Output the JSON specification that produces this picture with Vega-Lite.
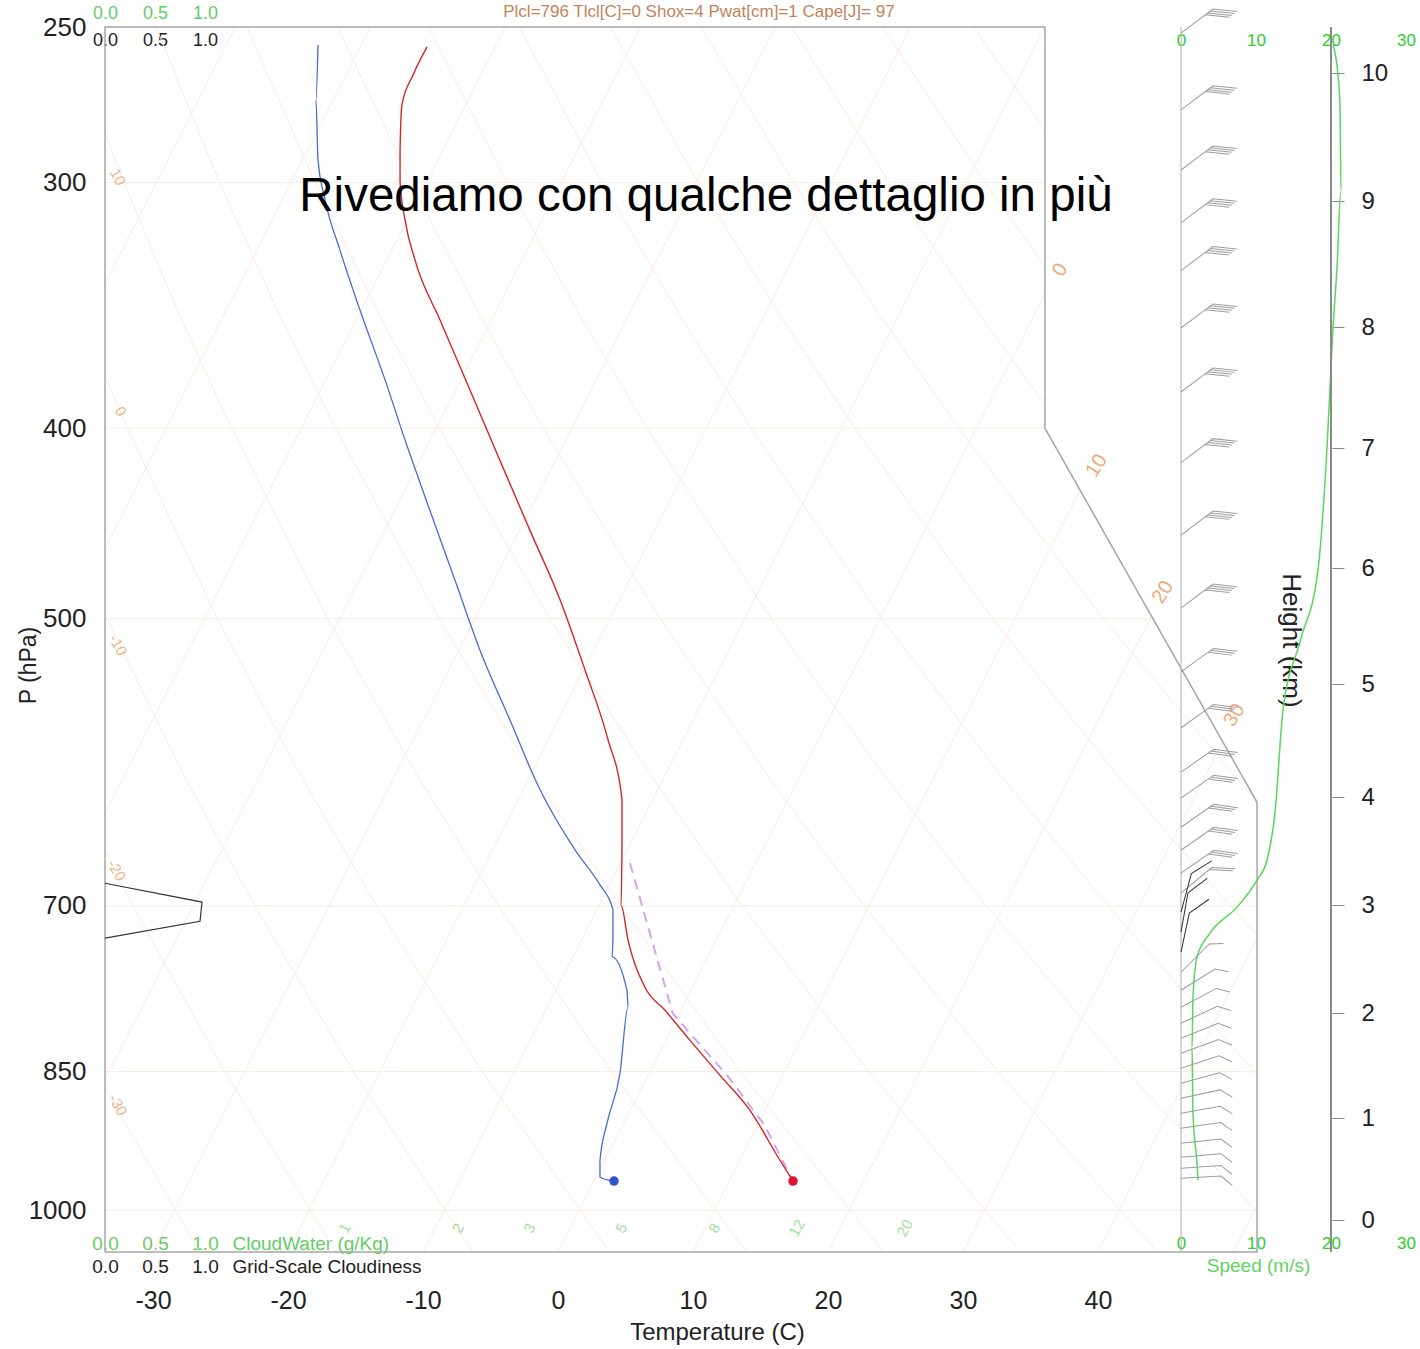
{
"$schema": "https://vega.github.io/schema/vega-lite/v6.json",
"width": 1301,
"height": 1225,
"autosize": {"type": "none"},
"padding": {"left": 105, "top": 27, "right": 14, "bottom": 97},
"background": "#ffffff",
"config": {"view": {"stroke": null}, "font": "Liberation Sans", "axis": {"grid": false, "labelFont": "Liberation Sans", "titleFont": "Liberation Sans", "labelOverlap": false, "labelFlush": false}, "text": {"font": "Liberation Sans"}},
"datasets": {
"isobars": [{"p":300,"t1":-33.556,"t2":36.07},{"p":400,"t1":-33.556,"t2":36.07},{"p":500,"t1":-33.556,"t2":44.07},{"p":700,"t1":-33.556,"t2":51.78},{"p":850,"t1":-33.556,"t2":51.78},{"p":1000,"t1":-33.556,"t2":51.78}],
"isotherms": [
{"id":-70,"t":-33.556,"p":337.8},{"id":-70,"t":-23.9,"p":250},
{"id":-60,"t":-33.556,"p":460.4},{"id":-60,"t":-13.9,"p":250},
{"id":-50,"t":-33.556,"p":628.2},{"id":-50,"t":-3.9,"p":250},
{"id":-40,"t":-33.556,"p":858.1},{"id":-40,"t":6.1,"p":250},
{"id":-30,"t":-30,"p":1050},{"id":-30,"t":16.1,"p":250},
{"id":-20,"t":-20,"p":1050},{"id":-20,"t":26.1,"p":250},
{"id":-10,"t":-10,"p":1050},{"id":-10,"t":36.07,"p":250},
{"id":0,"t":0,"p":1050},{"id":0,"t":36.07,"p":341.7},
{"id":10,"t":10,"p":1050},{"id":10,"t":38.68,"p":430},
{"id":20,"t":20,"p":1050},{"id":20,"t":43.95,"p":498.6},
{"id":30,"t":30,"p":1050},{"id":30,"t":49.23,"p":577.6},
{"id":40,"t":40,"p":1050},{"id":40,"t":51.78,"p":727},
{"id":50,"t":50,"p":1050},{"id":50,"t":51.78,"p":994}
],
"adiabats": [
{"id":-30,"p":700,"t":-40.53},{"id":-30,"p":850,"t":-34.24},{"id":-30,"p":1050,"t":-26.58},
{"id":-20,"p":500,"t":-41.64},{"id":-20,"p":600,"t":-36.39},{"id":-20,"p":700,"t":-31.5},{"id":-20,"p":850,"t":-24.69},{"id":-20,"p":1050,"t":-16.44},
{"id":-10,"p":400,"t":-39.59},{"id":-10,"p":500,"t":-33.43},{"id":-10,"p":600,"t":-27.75},{"id":-10,"p":700,"t":-22.47},{"id":-10,"p":850,"t":-15.15},{"id":-10,"p":1050,"t":-6.3},
{"id":0,"p":250,"t":-43.24},{"id":0,"p":300,"t":-39.25},{"id":0,"p":350,"t":-35.47},{"id":0,"p":400,"t":-31.89},{"id":0,"p":500,"t":-25.23},{"id":0,"p":600,"t":-19.11},{"id":0,"p":700,"t":-13.44},{"id":0,"p":850,"t":-5.6},{"id":0,"p":1050,"t":3.84},
{"id":10,"p":250,"t":-36.51},{"id":10,"p":300,"t":-32.16},{"id":10,"p":350,"t":-28.06},{"id":10,"p":400,"t":-24.19},{"id":10,"p":500,"t":-17.03},{"id":10,"p":600,"t":-10.47},{"id":10,"p":700,"t":-4.41},{"id":10,"p":850,"t":3.95},{"id":10,"p":1050,"t":13.98},
{"id":20,"p":250,"t":-29.78},{"id":20,"p":300,"t":-25.07},{"id":20,"p":350,"t":-20.65},{"id":20,"p":400,"t":-16.5},{"id":20,"p":500,"t":-8.82},{"id":20,"p":600,"t":-1.83},{"id":20,"p":700,"t":4.62},{"id":20,"p":850,"t":13.49},{"id":20,"p":1050,"t":24.12},
{"id":30,"p":250,"t":-23.05},{"id":30,"p":300,"t":-17.98},{"id":30,"p":350,"t":-13.24},{"id":30,"p":400,"t":-8.8},{"id":30,"p":500,"t":-0.62},{"id":30,"p":600,"t":6.82},{"id":30,"p":700,"t":13.65},{"id":30,"p":850,"t":23.04},{"id":30,"p":1050,"t":34.26},
{"id":40,"p":250,"t":-16.32},{"id":40,"p":300,"t":-10.89},{"id":40,"p":350,"t":-5.84},{"id":40,"p":400,"t":-1.1},{"id":40,"p":500,"t":7.58},{"id":40,"p":600,"t":15.46},{"id":40,"p":700,"t":22.68},{"id":40,"p":850,"t":32.59},{"id":40,"p":1050,"t":44.4},
{"id":50,"p":250,"t":-9.59},{"id":50,"p":300,"t":-3.8},{"id":50,"p":350,"t":1.57},{"id":50,"p":400,"t":6.59},{"id":50,"p":500,"t":15.79},{"id":50,"p":600,"t":24.1},{"id":50,"p":700,"t":31.72},{"id":50,"p":850,"t":42.13},{"id":50,"p":1002,"t":51.78},
{"id":60,"p":250,"t":-2.86},{"id":60,"p":300,"t":3.28},{"id":60,"p":350,"t":8.98},{"id":60,"p":400,"t":14.29},{"id":60,"p":500,"t":23.99},{"id":60,"p":600,"t":32.74},{"id":60,"p":700,"t":40.75},{"id":60,"p":853,"t":51.78},
{"id":70,"p":250,"t":3.87},{"id":70,"p":300,"t":10.37},{"id":70,"p":350,"t":16.39},{"id":70,"p":400,"t":21.99},{"id":70,"p":500,"t":32.19},{"id":70,"p":600,"t":41.38},{"id":70,"p":700,"t":49.78},{"id":70,"p":724,"t":51.78},
{"id":80,"p":250,"t":10.6},{"id":80,"p":300,"t":17.46},{"id":80,"p":350,"t":23.8},{"id":80,"p":400,"t":29.68},{"id":80,"p":500,"t":40.4},{"id":80,"p":600,"t":50.03},{"id":80,"p":618,"t":51.7},
{"id":90,"p":250,"t":17.32},{"id":90,"p":300,"t":24.55},{"id":90,"p":350,"t":31.21},{"id":90,"p":389,"t":36.07},
{"id":100,"p":250,"t":24.05},{"id":100,"p":300,"t":31.64},{"id":100,"p":331,"t":36.07},
{"id":110,"p":250,"t":30.78},{"id":110,"p":282,"t":36.07}
],
"frame": [{"k":1,"t":-33.556,"p":1050},{"k":2,"t":-33.556,"p":250},{"k":3,"t":36.07,"p":250},{"k":4,"t":36.07,"p":400},{"k":5,"t":51.78,"p":620},{"k":6,"t":51.78,"p":1050},{"k":7,"t":-33.556,"p":1050}],
"temp": [{"t":-9.7,"p":255.9},{"t":-10.74,"p":264.5},{"t":-11.56,"p":273.9},{"t":-11.7,"p":288.7},{"t":-11.7,"p":299.8},{"t":-11.33,"p":313.4},{"t":-10.59,"p":328.5},{"t":-8.74,"p":352.4},{"t":-6.52,"p":382.5},{"t":-4.3,"p":415.4},{"t":-2.07,"p":451},{"t":0.15,"p":489},{"t":2.0,"p":531},{"t":3.7,"p":576},{"t":4.74,"p":618},{"t":4.74,"p":648},{"t":4.67,"p":699.5},{"t":5.19,"p":728.6},{"t":6.44,"p":770},{"t":7.93,"p":791.1},{"t":9.78,"p":819.4},{"t":12.0,"p":853.7},{"t":14.22,"p":889.4},{"t":16.44,"p":943},{"t":17.41,"p":966.3}],
"dewp": [{"t":-17.78,"p":255.3},{"t":-17.93,"p":272.3},{"t":-17.78,"p":292},{"t":-17.26,"p":306},{"t":-16.15,"p":324.7},{"t":-14.67,"p":348.3},{"t":-12.81,"p":378},{"t":-11.33,"p":405.6},{"t":-9.48,"p":440.6},{"t":-7.63,"p":478},{"t":-5.78,"p":518.8},{"t":-3.56,"p":563},{"t":-1.33,"p":611},{"t":1.26,"p":655.6},{"t":3.11,"p":683},{"t":4.07,"p":703},{"t":4.07,"p":726},{"t":4.0,"p":743},{"t":5.11,"p":773},{"t":5.19,"p":788},{"t":4.59,"p":851.6},{"t":3.63,"p":903},{"t":3.11,"p":943},{"t":3.11,"p":962},{"t":4.15,"p":966.3}],
"parcel": [{"t":5.33,"p":665.8},{"t":8.5,"p":794},{"t":12.6,"p":855},{"t":15.3,"p":905},{"t":17.41,"p":966.3}],
"surface": [{"t":4.15,"p":966.3,"var":"Td"},{"t":17.41,"p":966.3,"var":"T"}],
"adiabatLabels": [{"t":-32.6,"p":298,"label":"10"},{"t":-32.4,"p":392.2,"label":"0"},{"t":-32.6,"p":515.7,"label":"-10"},{"t":-32.7,"p":671.4,"label":"-20"},{"t":-32.6,"p":884.1,"label":"-30"}],
"isothermLabels": [{"t":37.2,"p":332.3,"label":"0"},{"t":39.9,"p":417.9,"label":"10"},{"t":44.8,"p":484.7,"label":"20"},{"t":50.1,"p":559.8,"label":"30"}],
"mixingLabels": [{"t":-15.8,"p":1021,"label":"1"},{"t":-7.4,"p":1021,"label":"2"},{"t":-2.1,"p":1021,"label":"3"},{"t":4.7,"p":1021,"label":"5"},{"t":11.6,"p":1021,"label":"8"},{"t":17.7,"p":1021,"label":"12"},{"t":25.7,"p":1021,"label":"20"}],
"header": [{"t":10.44,"p":245.6,"label":"Plcl=796 Tlcl[C]=0 Shox=4 Pwat[cm]=1 Cape[J]= 97"}],
"overlay": [{"t":10.96,"p":305.1,"label":"Rivediamo con qualche dettaglio in più"}],
"speed": [{"s":20.27,"p":255.3},{"s":20.93,"p":264.5},{"s":21.2,"p":274.6},{"s":21.33,"p":302.6},{"s":20.8,"p":331.5},{"s":20.27,"p":355.3},{"s":19.47,"p":409.4},{"s":18.27,"p":472.1},{"s":15.87,"p":513.6},{"s":13.6,"p":556.5},{"s":12.53,"p":627.8},{"s":11.47,"p":663.4},{"s":10.13,"p":679.2},{"s":7.47,"p":701},{"s":3.87,"p":722.7},{"s":2.13,"p":743.3},{"s":1.6,"p":779},{"s":1.47,"p":826},{"s":1.6,"p":892.4},{"s":2.13,"p":946.2},{"s":2.27,"p":965.2}],
"barbs": [
{"p":251.8,"dir":53,"kind":"b4","grp":"a"},{"p":275.5,"dir":53,"kind":"b4","grp":"a"},{"p":295.6,"dir":53,"kind":"b4","grp":"a"},{"p":314.5,"dir":53,"kind":"b4","grp":"a"},{"p":332.6,"dir":53,"kind":"b4","grp":"a"},{"p":355.7,"dir":53,"kind":"b4","grp":"a"},{"p":383.4,"dir":53,"kind":"b4","grp":"a"},{"p":416.5,"dir":53,"kind":"b4","grp":"a"},{"p":453.4,"dir":53,"kind":"b4","grp":"a"},{"p":493.9,"dir":53,"kind":"b4","grp":"a"},
{"p":532.2,"dir":54,"kind":"b3","grp":"a"},{"p":568.3,"dir":54,"kind":"b3","grp":"a"},{"p":598.5,"dir":55,"kind":"b3","grp":"a"},{"p":617.0,"dir":55,"kind":"b3","grp":"a"},{"p":638.4,"dir":55,"kind":"b3","grp":"a"},{"p":655.8,"dir":55,"kind":"b3","grp":"a"},{"p":673.7,"dir":55,"kind":"b3","grp":"a"},
{"p":689.7,"dir":50,"kind":"b2","grp":"a"},
{"p":705.2,"dir":15,"kind":"b1","grp":"b"},{"p":721.9,"dir":10,"kind":"b1","grp":"b"},{"p":739.0,"dir":12,"kind":"b1","grp":"b"},
{"p":756.6,"dir":45,"kind":"h","grp":"a"},{"p":772.7,"dir":58,"kind":"h","grp":"a"},{"p":788.2,"dir":62,"kind":"h","grp":"a"},{"p":803.1,"dir":65,"kind":"h","grp":"a"},{"p":817.4,"dir":68,"kind":"h","grp":"a"},{"p":831.9,"dir":70,"kind":"h","grp":"a"},{"p":846.6,"dir":72,"kind":"h","grp":"a"},{"p":861.6,"dir":75,"kind":"h","grp":"a"},{"p":876.9,"dir":78,"kind":"h","grp":"a"},{"p":892.4,"dir":80,"kind":"h","grp":"a"},{"p":908.2,"dir":82,"kind":"h","grp":"a"},{"p":924.3,"dir":84,"kind":"h","grp":"a"},{"p":939.6,"dir":85,"kind":"h","grp":"a"},{"p":951.8,"dir":86,"kind":"h","grp":"a"},{"p":963.0,"dir":87,"kind":"h","grp":"a"}
],
"cloud": [{"k":1,"c":0,"p":681.7},{"k":2,"c":0.97,"p":696.9},{"k":3,"c":0.95,"p":712.7},{"k":4,"c":0,"p":727}],
"heights": [{"h":0},{"h":1},{"h":2},{"h":3},{"h":4},{"h":5},{"h":6},{"h":7},{"h":8},{"h":9},{"h":10}]
},
"layer": [
{
"layer": [
{"data": {"name": "isobars"}, "mark": {"type": "rule", "color": "#f8ebe1", "strokeWidth": 1},
 "encoding": {
  "x": {"field": "t1", "type": "quantitative", "scale": {"domain": [-33.556, 62.815], "nice": false, "zero": false},
        "axis": {"orient": "bottom", "values": [-30,-20,-10,0,10,20,30,40], "labelExpr": "toString(datum.value)", "domain": false, "ticks": false, "tickSize": 0, "labelPadding": 36, "labelFontSize": 25, "labelColor": "#222222", "title": "Temperature (C)", "titleFontSize": 24, "titleFontWeight": "normal", "titleColor": "#222222", "titleX": 612, "titleY": 80, "titleAlign": "center", "titleBaseline": "middle"}},
  "x2": {"field": "t2"},
  "y": {"field": "p", "type": "quantitative", "scale": {"type": "log", "domain": [250, 1050], "reverse": true, "nice": false},
        "axis": {"orient": "left", "values": [250,300,400,500,700,850,1000], "format": "d", "domain": false, "ticks": false, "tickSize": 0, "labelPadding": 19, "labelFontSize": 26, "labelColor": "#222222", "title": "P (hPa)", "titleFontSize": 23, "titleFontWeight": "normal", "titleColor": "#222222", "titleX": -77, "titleY": 638, "titleAngle": -90, "titleAlign": "center", "titleBaseline": "middle"}}
 }},
{"data": {"name": "isotherms"}, "mark": {"type": "line", "color": "#f9eadf", "strokeWidth": 1, "clip": true},
 "encoding": {"x": {"field": "t", "type": "quantitative"}, "y": {"field": "p", "type": "quantitative"}, "detail": {"field": "id"}, "order": {"field": "p"}}},
{"data": {"name": "adiabats"}, "mark": {"type": "line", "color": "#f9eadf", "strokeWidth": 1, "clip": true},
 "encoding": {"x": {"field": "t", "type": "quantitative"}, "y": {"field": "p", "type": "quantitative"}, "detail": {"field": "id"}, "order": {"field": "p"}}},
{"data": {"name": "frame"}, "mark": {"type": "line", "color": "#a6a6a6", "strokeWidth": 1.5},
 "encoding": {"x": {"field": "t", "type": "quantitative"}, "y": {"field": "p", "type": "quantitative"}, "order": {"field": "k"}}},
{"data": {"name": "parcel"}, "mark": {"type": "line", "color": "#cfa6ee", "strokeWidth": 2, "strokeDash": [10, 7]},
 "encoding": {"x": {"field": "t", "type": "quantitative"}, "y": {"field": "p", "type": "quantitative"}, "order": {"field": "p"}}},
{"data": {"name": "dewp"}, "mark": {"type": "line", "color": "#4a6bd0", "strokeWidth": 1.3, "interpolate": "monotone"},
 "encoding": {"x": {"field": "t", "type": "quantitative"}, "y": {"field": "p", "type": "quantitative"}, "order": {"field": "p"}}},
{"data": {"name": "temp"}, "mark": {"type": "line", "color": "#d42626", "strokeWidth": 1.4, "interpolate": "monotone"},
 "encoding": {"x": {"field": "t", "type": "quantitative"}, "y": {"field": "p", "type": "quantitative"}, "order": {"field": "p"}}},
{"data": {"name": "surface"}, "mark": {"type": "point", "filled": true, "size": 90, "opacity": 1},
 "encoding": {"x": {"field": "t", "type": "quantitative"}, "y": {"field": "p", "type": "quantitative"},
  "color": {"field": "var", "type": "nominal", "scale": {"domain": ["T", "Td"], "range": ["#dd1133", "#3355cc"]}, "legend": null}}},
{"data": {"name": "adiabatLabels"}, "mark": {"type": "text", "color": "#f0b48c", "fontSize": 15, "angle": 60},
 "encoding": {"x": {"field": "t", "type": "quantitative"}, "y": {"field": "p", "type": "quantitative"}, "text": {"field": "label"}}},
{"data": {"name": "isothermLabels"}, "mark": {"type": "text", "color": "#eeaa7c", "fontSize": 20, "angle": -58},
 "encoding": {"x": {"field": "t", "type": "quantitative"}, "y": {"field": "p", "type": "quantitative"}, "text": {"field": "label"}}},
{"data": {"name": "mixingLabels"}, "mark": {"type": "text", "color": "#9ee09e", "fontSize": 15, "angle": -60},
 "encoding": {"x": {"field": "t", "type": "quantitative"}, "y": {"field": "p", "type": "quantitative"}, "text": {"field": "label"}}},
{"data": {"name": "header"}, "mark": {"type": "text", "color": "#c4835a", "fontSize": 17, "baseline": "middle"},
 "encoding": {"x": {"field": "t", "type": "quantitative"}, "y": {"field": "p", "type": "quantitative"}, "text": {"field": "label"}}},
{"data": {"name": "overlay"}, "mark": {"type": "text", "color": "#000000", "fontSize": 47.5, "baseline": "middle"},
 "encoding": {"x": {"field": "t", "type": "quantitative"}, "y": {"field": "p", "type": "quantitative"}, "text": {"field": "label"}}}
]
},
{
"layer": [
{"data": {"name": "speed"}, "mark": {"type": "line", "color": "#5ad65a", "strokeWidth": 1.5, "interpolate": "monotone"},
 "encoding": {
  "x": {"field": "s", "type": "quantitative", "scale": {"domain": [-143.47, 30], "nice": false, "zero": false},
        "axis": {"orient": "bottom", "values": [0,10,20,30], "domain": false, "ticks": false, "tickSize": 0, "labelBaseline": "middle", "labelPadding": -9, "labelFontSize": 17, "labelColor": "#2ecc2e", "title": "Speed (m/s)", "titleColor": "#5fd35f", "titleFontSize": 19, "titleFontWeight": "normal", "titleX": 1153, "titleY": 13, "titleAlign": "center", "titleBaseline": "middle"}},
  "y": {"field": "p", "type": "quantitative", "scale": {"type": "log", "domain": [250, 1050], "reverse": true, "nice": false}, "axis": null},
  "order": {"field": "p"}
 }},
{"data": {"values": [{"s": 0}]}, "mark": {"type": "rule", "color": "#bdbdbd", "strokeWidth": 1.2},
 "encoding": {"x": {"field": "s", "type": "quantitative",
   "axis": {"orient": "top", "values": [0,10,20,30], "domain": false, "ticks": false, "tickSize": 0, "labelBaseline": "middle", "labelPadding": -13, "labelFontSize": 17, "labelColor": "#2ecc2e", "title": null}}}},
{"data": {"values": [{"s": 20}]}, "mark": {"type": "rule", "color": "#8a8a8a", "strokeWidth": 2},
 "encoding": {"x": {"field": "s", "type": "quantitative", "axis": null}}},
{"data": {"name": "barbs"}, "mark": {"type": "point", "filled": false, "size": 64, "strokeWidth": 1, "opacity": 1},
 "encoding": {
  "x": {"datum": 0, "type": "quantitative", "axis": null},
  "y": {"field": "p", "type": "quantitative"},
  "shape": {"field": "kind", "type": "nominal", "legend": null, "scale": {"domain": ["h", "b1", "b2", "b3", "b4"], "range": ["M0,0L0,-10L2.4,-12.6", "M0,0L0,-10L4.1,-14.4", "M0,0L0,-10L4.1,-14.4M0,-9.2L4.1,-13.6", "M0,0L0,-10L4.1,-14.4M0,-9.2L4.1,-13.6M0,-8.4L4.1,-12.8", "M0,0L0,-10L4.1,-14.4M0,-9.2L4.1,-13.6M0,-8.4L4.1,-12.8M0,-7.6L4.1,-12"]}},
  "angle": {"field": "dir", "type": "quantitative", "scale": null},
  "color": {"field": "grp", "type": "nominal", "scale": {"domain": ["a", "b"], "range": ["#9c9c9c", "#333333"]}, "legend": null}
 }}
],
"resolve": {"axis": {"x": "independent"}}
},
{
"layer": [
{"data": {"name": "cloud"}, "mark": {"type": "line", "color": "#333333", "strokeWidth": 1.2},
 "encoding": {
  "x": {"field": "c", "type": "quantitative", "scale": {"domain": [0, 13.01], "nice": false, "zero": false},
        "axis": {"orient": "bottom", "values": [0, 0.5, 1], "format": ".1f", "domain": false, "ticks": false, "tickSize": 0, "labelBaseline": "middle", "labelPadding": 14, "labelFontSize": 19, "labelColor": "#222222", "title": "Grid-Scale Cloudiness", "titleX": 127, "titleY": 14, "titleAlign": "left", "titleBaseline": "middle", "titleFontSize": 19, "titleFontWeight": "normal", "titleColor": "#222222"}},
  "y": {"field": "p", "type": "quantitative", "scale": {"type": "log", "domain": [250, 1050], "reverse": true, "nice": false}, "axis": null},
  "order": {"field": "k"}
 }},
{"data": {"name": "cloud"}, "mark": {"type": "point", "opacity": 0},
 "encoding": {
  "x": {"field": "c", "type": "quantitative",
        "axis": {"orient": "bottom", "values": [0, 0.5, 1], "format": ".1f", "domain": false, "ticks": false, "tickSize": 0, "labelBaseline": "middle", "labelPadding": -9, "labelFontSize": 19, "labelColor": "#66cc66", "title": "CloudWater (g/Kg)", "titleX": 127, "titleY": -9, "titleAlign": "left", "titleBaseline": "middle", "titleFontSize": 19, "titleFontWeight": "normal", "titleColor": "#66cc66"}},
  "y": {"field": "p", "type": "quantitative"}
 }},
{"data": {"name": "cloud"}, "mark": {"type": "point", "opacity": 0},
 "encoding": {
  "x": {"field": "c", "type": "quantitative",
        "axis": {"orient": "top", "values": [0, 0.5, 1], "format": ".1f", "domain": false, "ticks": false, "tickSize": 0, "labelBaseline": "middle", "labelPadding": -13, "labelFontSize": 18, "labelColor": "#222222", "title": null}},
  "y": {"field": "p", "type": "quantitative"}
 }},
{"data": {"name": "cloud"}, "mark": {"type": "point", "opacity": 0},
 "encoding": {
  "x": {"field": "c", "type": "quantitative",
        "axis": {"orient": "top", "values": [0, 0.5, 1], "format": ".1f", "domain": false, "ticks": false, "tickSize": 0, "labelBaseline": "middle", "labelPadding": 14, "labelFontSize": 18, "labelColor": "#66cc66", "title": null}},
  "y": {"field": "p", "type": "quantitative"}
 }}
],
"resolve": {"axis": {"x": "independent"}}
},
{
"data": {"name": "heights"},
"mark": {"type": "point", "opacity": 0},
"encoding": {
 "y": {"field": "h", "type": "quantitative", "scale": {"domain": [0,1,2,3,4,5,6,7,8,9,10], "range": [1193,1091,986,878,770,657,541,421,300,174,46], "nice": false, "zero": false},
       "axis": {"orient": "right", "offset": -74, "values": [0,1,2,3,4,5,6,7,8,9,10], "domain": false, "ticks": true, "tickSize": 12, "tickColor": "#8a8a8a", "labelPadding": 17, "labelFontSize": 24, "labelColor": "#222222", "title": "Height (km)", "titleX": -42, "titleY": 613, "titleAngle": 90, "titleAlign": "center", "titleBaseline": "middle", "titleFontSize": 26, "titleFontWeight": "normal", "titleColor": "#222222"}}
}
}
],
"resolve": {"scale": {"x": "independent", "y": "independent", "color": "independent", "shape": "independent"}}
}
